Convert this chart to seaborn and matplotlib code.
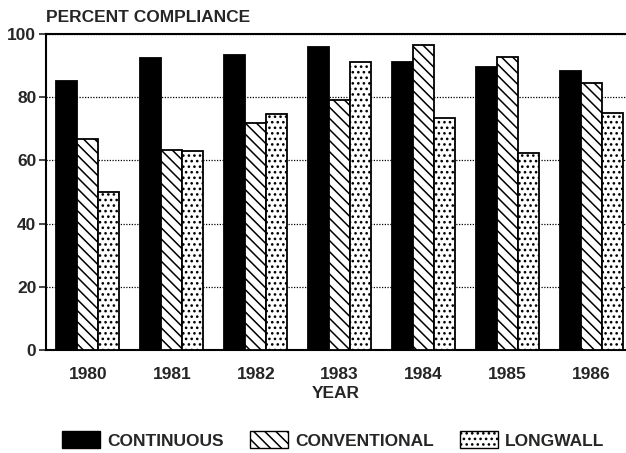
import matplotlib
matplotlib.use("Agg")
import matplotlib.pyplot as plt
from matplotlib.patches import Patch
import seaborn as sns
import pandas as pd

years = ["1980", "1981", "1982", "1983", "1984", "1985", "1986"]
continuous = [85, 92.4, 93.4, 96, 91, 89.5, 88.3]
conventional = [66.8, 63.3, 71.8, 79, 96.5, 92.8, 84.6]
longwall = [50, 63, 74.8, 91, 73.5, 62.5, 75]
series_names = ["CONTINUOUS", "CONVENTIONAL", "LONGWALL"]
yticks = [0, 20, 40, 60, 80, 100]

rows = []
for name, vals in zip(series_names, [continuous, conventional, longwall]):
    for y, v in zip(years, vals):
        rows.append({"YEAR": y, "value": v, "type": name})
df = pd.DataFrame(rows)

sns.set_theme(style="white")
plt.rcParams["font.family"] = ["Liberation Sans", "DejaVu Sans"]
plt.rcParams["font.weight"] = "bold"
plt.rcParams["hatch.linewidth"] = 1.1

FS = 12.5
fig = plt.figure(figsize=(6.26, 4.53), dpi=100)
W, H = 626, 453
left, right, top, bottom = 46, 626, 34, 350
ax = fig.add_axes([left / W, 1 - bottom / H, (right - left) / W, (bottom - top) / H])

sns.barplot(data=df, x="YEAR", y="value", hue="type", order=years,
            hue_order=series_names, ax=ax, width=0.75, legend=False,
            palette=["black", "white", "white"], saturation=1,
            edgecolor="black", linewidth=1.3, errorbar=None, zorder=3)

hatches = [None, "\\\\\\", "..."]
for cont, h in zip(ax.containers, hatches):
    for p in cont:
        if h:
            p.set_hatch(h)
        p.set_edgecolor("black")

ax.set_xlim(-0.5, (right - left) / 83.9 - 0.5)
ax.set_ylim(0, 100)
ax.set_yticks(yticks)
ax.set_yticklabels([str(t) for t in yticks], fontsize=FS, fontweight="bold")
ax.tick_params(axis="y", direction="out", length=5, width=1.2, left=True, pad=2)
ax.tick_params(axis="x", length=0, pad=12)
for lab in ax.get_xticklabels():
    lab.set_fontsize(FS)
    lab.set_fontweight("bold")
ax.set_xlabel("YEAR", fontsize=FS, fontweight="bold", labelpad=3)
ax.set_ylabel("")
ax.yaxis.grid(True, linestyle=(0, (1, 1.2)), color="black", linewidth=0.9, zorder=0)
ax.set_axisbelow(True)
for s in ["left", "bottom", "top"]:
    ax.spines[s].set_visible(True)
    ax.spines[s].set_color("black")
    ax.spines[s].set_linewidth(1.5)
ax.spines["right"].set_visible(False)

fig.text(left / W, 1 - 17 / H, "PERCENT COMPLIANCE", fontsize=FS,
         fontweight="bold", ha="left", va="center")

handles = [Patch(facecolor=c, edgecolor="black", hatch=h, linewidth=1.0)
           for c, h in zip(["black", "white", "white"], hatches)]
fig.legend(handles, series_names, loc="center", bbox_to_anchor=(333 / W, 1 - 440 / H),
           ncol=3, frameon=False, handlelength=2.2, handleheight=1.1,
           columnspacing=1.5, handletextpad=0.4, prop={"weight": "bold", "size": FS})

fig.savefig("out.png", dpi=100)
